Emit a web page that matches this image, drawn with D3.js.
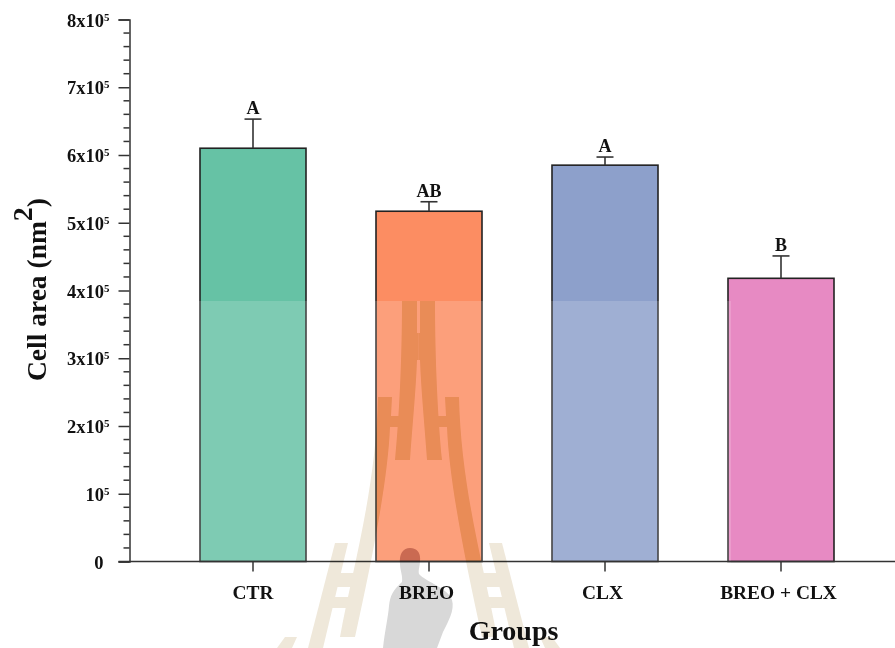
<!DOCTYPE html>
<html>
<head>
<meta charset="utf-8">
<script src="https://cdn.jsdelivr.net/npm/d3@7"></script>
<style>
  html, body { margin: 0; padding: 0; background: #fff; }
  svg { display: block; font-family: "Liberation Serif", serif; font-weight: bold; }
</style>
</head>
<body>
<div id="chart"></div>
<script>
// data
const groups = ["CTR", "BREO", "CLX", "BREO + CLX"];
const means = [610000, 517000, 585000, 418000];
const errors = [43000, 14000, 12000, 33000];
const letters = ["A", "AB", "A", "B"];
const barColors = ["#66c2a5", "#fc8d62", "#8da0cb", "#e78ac3"];
const majorTicks = [0, 100000, 200000, 300000, 400000, 500000, 600000, 700000, 800000];
const minorTicks = d3.range(0, 800001, 20000).filter((d) => d % 100000 !== 0);

const width = 895;
const height = 648;
const margin = { top: 19.5, right: 26, bottom: 86.5, left: 129.5 };
const axisColor = "#333";

const svg = d3
  .select("#chart")
  .append("svg")
  .attr("width", width)
  .attr("height", height);

svg.append("rect").attr("width", width).attr("height", height).attr("fill", "#fff");

// Escalas
const x = d3
  .scaleBand()
  .domain(groups)
  .range([165, 869])
  .paddingInner(70 / 176)
  .paddingOuter(35 / 176);

const y = d3
  .scaleLinear()
  .domain([0, 800000])
  .range([height - margin.bottom, margin.top]);

const baseY = y(0);

// Barras
svg
  .selectAll(".bar")
  .data(groups)
  .enter()
  .append("rect")
  .attr("class", "bar")
  .attr("x", (d) => x(d))
  .attr("y", (d, i) => y(means[i]))
  .attr("width", x.bandwidth())
  .attr("height", (d, i) => baseY - y(means[i]))
  .attr("fill", (d, i) => barColors[i])
  .attr("stroke", "#222")
  .attr("stroke-width", 1.6);

// Barras de erro
const errs = svg.append("g").attr("stroke", axisColor).attr("stroke-width", 1.6);
groups.forEach((g, i) => {
  const cx = x(g) + x.bandwidth() / 2;
  errs.append("line")
    .attr("x1", cx).attr("x2", cx)
    .attr("y1", y(means[i])).attr("y2", y(means[i] + errors[i]));
  errs.append("line")
    .attr("x1", cx - 8.5).attr("x2", cx + 8.5)
    .attr("y1", y(means[i] + errors[i])).attr("y2", y(means[i] + errors[i]));
});

// Faixa clara da marca d'agua sobre a parte de baixo das barras
svg
  .append("rect")
  .attr("x", 0)
  .attr("y", 301)
  .attr("width", 731)
  .attr("height", height - 301)
  .attr("fill", "#fff")
  .attr("opacity", 0.16);

// Letras
svg
  .selectAll(".letter")
  .data(groups)
  .enter()
  .append("text")
  .attr("class", "letter")
  .attr("x", (d) => x(d) + x.bandwidth() / 2)
  .attr("y", (d, i) => y(means[i] + errors[i]) - 5)
  .attr("text-anchor", "middle")
  .attr("font-size", 18)
  .attr("fill", "#111")
  .text((d, i) => letters[i]);

// Eixo Y
const yAxis = svg
  .append("g")
  .attr("transform", `translate(${margin.left},0)`)
  .call(d3.axisLeft(y).tickValues(majorTicks).tickSize(11).tickPadding(9).tickFormat(""));

yAxis.select(".domain").attr("stroke", axisColor).attr("stroke-width", 1.5);
yAxis.selectAll(".tick line").attr("stroke", axisColor).attr("stroke-width", 1.5);

yAxis
  .selectAll(".tick text")
  .attr("font-family", "Liberation Serif")
  .attr("font-size", 18.5)
  .attr("fill", "#111")
  .attr("dy", "6.5px")
  .each(function (d) {
    const t = d3.select(this);
    if (d === 0) {
      t.attr("dx", -6).text("0");
      return;
    }
    const m = d / 100000;
    t.append("tspan").text(m === 1 ? "10" : `${m}x10`);
    t.append("tspan").attr("font-size", 11).attr("dy", "-6px").text("5");
  });

svg
  .append("g")
  .attr("transform", `translate(${margin.left},0)`)
  .selectAll("line")
  .data(minorTicks)
  .enter()
  .append("line")
  .attr("x1", -6)
  .attr("x2", 0)
  .attr("y1", (d) => y(d))
  .attr("y2", (d) => y(d))
  .attr("stroke", axisColor)
  .attr("stroke-width", 1.5);

// Eixo X
const xAxis = svg
  .append("g")
  .attr("transform", `translate(0,${baseY})`)
  .call(d3.axisBottom(x).tickSize(10).tickSizeOuter(0).tickPadding(14));

xAxis.select(".domain").remove();
xAxis.selectAll(".tick line").attr("stroke", axisColor).attr("stroke-width", 1.5);
xAxis
  .selectAll(".tick text")
  .attr("font-family", "Liberation Serif")
  .attr("font-size", 19.4)
  .attr("fill", "#111")
  .attr("dx", (d, i) => (i ? -2.5 : 0));

svg
  .append("line")
  .attr("x1", margin.left - 11)
  .attr("x2", width)
  .attr("y1", baseY)
  .attr("y2", baseY)
  .attr("stroke", axisColor)
  .attr("stroke-width", 1.5);

// Titulos
svg
  .append("text")
  .attr("x", 513.5)
  .attr("y", 640)
  .attr("text-anchor", "middle")
  .attr("font-size", 28)
  .attr("fill", "#111")
  .text("Groups");

const yTitle = svg
  .append("text")
  .attr("transform", "translate(46,289.5) rotate(-90)")
  .attr("text-anchor", "middle")
  .attr("font-size", 27.5)
  .attr("fill", "#111");
yTitle.append("tspan").text("Cell area (nm");
yTitle.append("tspan").attr("font-size", 28).attr("dy", "-14px").text("2");
yTitle.append("tspan").attr("dy", "14px").text(")");

// Marca d'agua (emblema de fundo, nao e dado)
const emblemPaths = [
  "M402,301 L417,301 L417,333 L418.5,333 L418.5,360 L417,360 C416,390 412,430 410,460 L395,460 C399,420 402,360 402,301 Z",
  "M378,397 L392,397 L391,416 L402,416 L401,427 L390,427 C388,480 372,560 355,637 L340,637 C352,570 376,490 378,397 Z",
  "M335,543 L348,543 L323,648 L308,648 Z",
  "M336,573 L356,573 L352,587 L332,587 Z",
  "M330,597 L349,597 L346,608 L327,608 Z",
  "M285,637 L297,637 L292,648 L277,648 Z",
];
const personPath =
  "M410,548 C417,548 421,553 420,561 C420,566 418,570 419,574 C426,582 448,588 452,600 C455,610 448,622 443,632 L437,648 L383,648 C385,630 388,618 389,606 C390,596 393,590 402,582 C403,576 400,570 400,564 C399,554 403,548 410,548 Z";

svg
  .append("clipPath")
  .attr("id", "breo-clip")
  .append("rect")
  .attr("x", x("BREO"))
  .attr("y", 301)
  .attr("width", x.bandwidth())
  .attr("height", baseY - 301);

function drawEmblem(layer, emblemColor, personColor) {
  [null, "translate(837,0) scale(-1,1)"].forEach((tr) => {
    layer
      .append("g")
      .attr("transform", tr)
      .selectAll("path")
      .data(emblemPaths)
      .enter()
      .append("path")
      .attr("d", (d) => d)
      .attr("fill", emblemColor);
  });
  layer.append("path").attr("d", personPath).attr("fill", personColor);
}

drawEmblem(svg.append("g").style("mix-blend-mode", "multiply"), "#efe8da", "#d8d8d8");
// sobre a barra a marca aparece mais forte
drawEmblem(
  svg.append("g").attr("clip-path", "url(#breo-clip)").style("mix-blend-mode", "multiply"),
  "#fcf7d4",
  "#f2c9c9"
);
</script>
</body>
</html>
